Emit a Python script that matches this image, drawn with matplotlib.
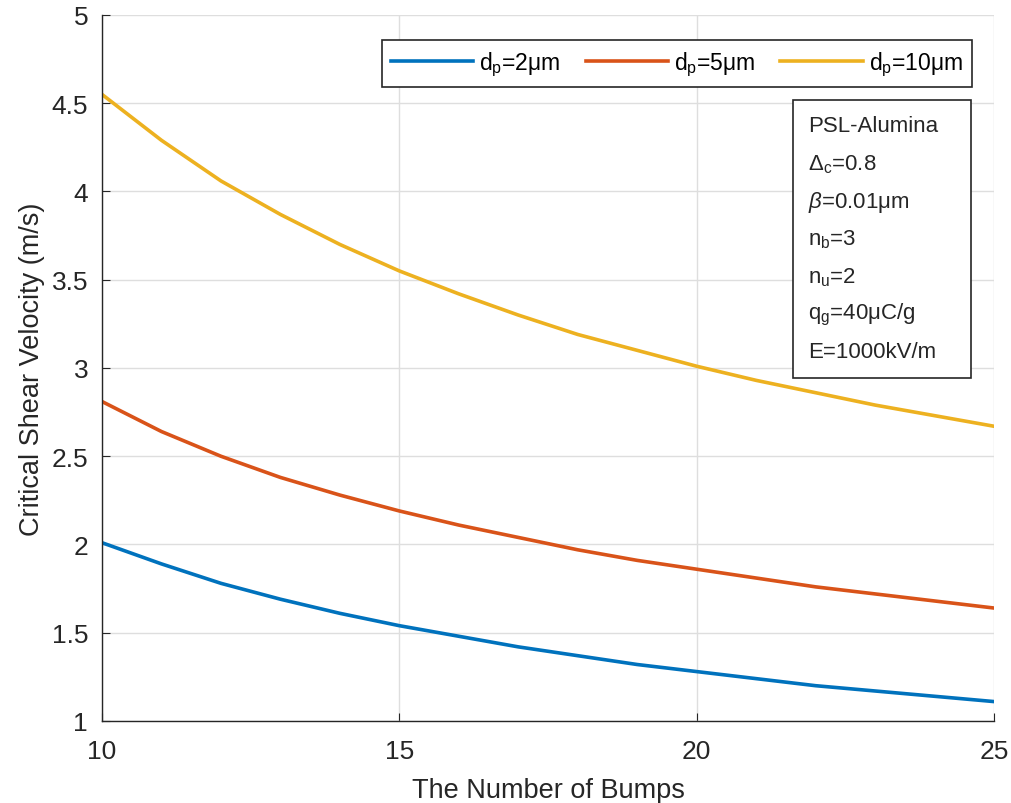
# -*- coding: utf-8 -*-
import numpy as np
import matplotlib
matplotlib.use('Agg')
import matplotlib.pyplot as plt
from matplotlib.patches import Rectangle

plt.rcParams['font.family'] = ['Liberation Sans', 'DejaVu Sans']
plt.rcParams['mathtext.fontset'] = 'custom'
plt.rcParams['mathtext.rm'] = 'Liberation Sans'
plt.rcParams['mathtext.it'] = 'Liberation Sans:italic'

bumps = list(range(10, 26))
v_2um = [2.01, 1.89, 1.78, 1.69, 1.61, 1.54, 1.48, 1.42, 1.37, 1.32, 1.28, 1.24, 1.20, 1.17, 1.14, 1.11]
v_5um = [2.81, 2.64, 2.50, 2.38, 2.28, 2.19, 2.11, 2.04, 1.97, 1.91, 1.86, 1.81, 1.76, 1.72, 1.68, 1.64]
v_10um = [4.55, 4.29, 4.06, 3.87, 3.70, 3.55, 3.42, 3.30, 3.19, 3.10, 3.01, 2.93, 2.86, 2.79, 2.73, 2.67]
labels = [r'd$_\mathregular{p}$=2μm', r'd$_\mathregular{p}$=5μm', r'd$_\mathregular{p}$=10μm']
info = ['PSL-Alumina', r'$\Delta_\mathregular{c}$=0.8', r'$\beta$=0.01μm', r'n$_\mathregular{b}$=3',
        r'n$_\mathregular{u}$=2', r'q$_\mathregular{g}$=40μC/g', 'E=1000kV/m']

fig = plt.figure(figsize=(10.12, 8.04), dpi=100)
ax = fig.add_axes([0.1008, 0.1020, 0.8814, 0.8781])

ax.plot(bumps, v_2um, color='#0072BD', lw=2.6, label=labels[0])
ax.plot(bumps, v_5um, color='#D95319', lw=2.6, label=labels[1])
ax.plot(bumps, v_10um, color='#EDB120', lw=2.6, label=labels[2])

ax.set_xlim(10, 25)
ax.set_ylim(1, 5)
ax.set_xticks([10, 15, 20, 25])
ax.set_yticks([1, 1.5, 2, 2.5, 3, 3.5, 4, 4.5, 5])
ax.set_yticklabels(['1', '1.5', '2', '2.5', '3', '3.5', '4', '4.5', '5'])
ax.grid(True, color='#dedede', lw=1)
ax.set_axisbelow(True)
ax.tick_params(direction='in', length=6, labelsize=19, colors='#262626')
ax.tick_params(axis='x', pad=13)
ax.tick_params(axis='y', pad=10)
for s in ax.spines.values():
    s.set_color('#262626')
    s.set_linewidth(1)
ax.spines['top'].set_visible(False)
ax.spines['right'].set_visible(False)

ax.set_xlabel('The Number of Bumps', fontsize=19.5, color='#262626', labelpad=10)
ax.set_ylabel('Critical Shear Velocity (m/s)', fontsize=19.5, color='#262626', labelpad=5)

leg = ax.legend(ncol=3, loc='upper right', bbox_to_anchor=(0.9753, 0.9646), fontsize=16.5,
                frameon=True, fancybox=False, edgecolor='#262626', framealpha=1,
                borderaxespad=0, handlelength=3.6, handletextpad=0.25,
                columnspacing=1.1, borderpad=0.4)
leg.get_frame().set_linewidth(1.2)

ax.add_patch(Rectangle((0.7747, 0.4858), 0.1995, 0.3938, transform=ax.transAxes,
                       facecolor='white', edgecolor='#262626', lw=1.2, zorder=5))
for i, t in enumerate(info):
    ax.text(0.7915, 0.8428 - i * 0.0533, t, transform=ax.transAxes, fontsize=16,
            color='#262626', va='center', ha='left', zorder=6)

plt.savefig('out.png', dpi=100)
